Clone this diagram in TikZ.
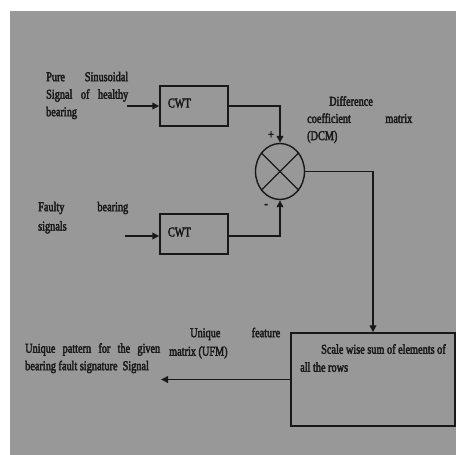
\documentclass[tikz,border=0pt]{standalone}
\usepackage{fontspec}
\setmainfont{Liberation Serif}[FakeStretch=0.76,FakeBold=2.6]
\usetikzlibrary{arrows.meta,shapes.geometric}
\definecolor{bggray}{RGB}{152,152,152}
\definecolor{ink}{RGB}{24,24,24}
\newcommand\tpst{\rule{0pt}{10pt}}
\begin{document}
\begin{tikzpicture}[x=1pt,y=-1pt,
  txt/.style={inner sep=0pt,anchor=north west,align=left,text=ink},
  fs/.style={font=\fontsize{13.5}{#1}\selectfont},
  blk/.style={draw=ink,line width=1.4pt,rectangle,inner sep=0pt},
  cwtbox/.style={blk,minimum width=68pt,minimum height=40pt,text width=52pt,align=left,inner xsep=8pt,text=ink,font=\fontsize{13.5}{14}\selectfont},
  conn/.style={draw=ink,line width=1.7pt,-{Triangle[length=7pt,width=6.5pt]}}]
\useasboundingbox (0,0) rectangle (456,455);
\fill[white] (0,0) rectangle (456,455);
\fill[bggray] (10,11) rectangle (456,455);

% text blocks
\node[txt,fs=17.5] (tpure) at (46,71)
  {\tpst\makebox[82pt][l]{Pure\hfill Sinusoidal}\\\makebox[82pt][l]{Signal\hfill of\hfill healthy}\\bearing};
\node[txt,fs=19.3] (tfaulty) at (38,201)
  {\tpst\makebox[90pt][l]{Faulty\hfill bearing}\\signals};
\node[txt,fs=17.2] (tdcm) at (307,95.5)
  {\tpst\hspace*{22pt}Difference\\\makebox[105pt][l]{coefficient\hfill matrix}\\(DCM)};
\node[txt,fs=18.5] (tufm) at (169,327)
  {\tpst\hspace*{21pt}\makebox[90pt][l]{Unique\hfill feature}\\matrix (UFM)};
\node[txt,fs=17.5] (tpat) at (25,342.5)
  {\tpst\makebox[135pt][l]{Unique\hfill pattern\hfill for\hfill the\hfill given}\\bearing fault signature\ \ Signal};

% blocks
\node[cwtbox] (cwt1) at (194,106) {\raisebox{6pt}{CWT}};
\node[cwtbox] (cwt2) at (194,234) {\raisebox{4pt}{CWT}};
\node[draw=ink,line width=1.4pt,ellipse,minimum width=49pt,minimum height=56pt,inner sep=0pt] (circ) at (280,171.5) {};
\draw[ink,line width=1.3pt] (circ.45) -- (circ.225) (circ.135) -- (circ.315);
\node[blk,minimum width=164pt,minimum height=93pt] (box3) at (373,379.5) {};
\node[txt,fs=18] (tbox3) at (300,343.5)
  {\tpst\hspace*{21pt}Scale wise sum of elements of\\all the rows};

\node[inner sep=0pt,text=ink,font=\fontsize{13.5}{14}\selectfont] (plus) at (271,135) {+};
\node[inner sep=0pt,text=ink,font=\fontsize{13.5}{14}\selectfont] (minus) at (266,206) {-};

% connectors
\coordinate (in1) at (127,106);
\coordinate (in2) at (125,236);
\coordinate (out) at (161,379.5);
\draw[conn] (in1) -- (cwt1.west);
\draw[conn] (in2) -- (in2 -| cwt2.west);
\draw[conn] (cwt1.east) -| (circ.north);
\draw[conn] ([yshift=-2pt]cwt2.east) -| (circ.south);
\draw[conn] (circ.east) -| (box3.north);
\draw[conn] (box3.west) -- (out);
\end{tikzpicture}
\end{document}
